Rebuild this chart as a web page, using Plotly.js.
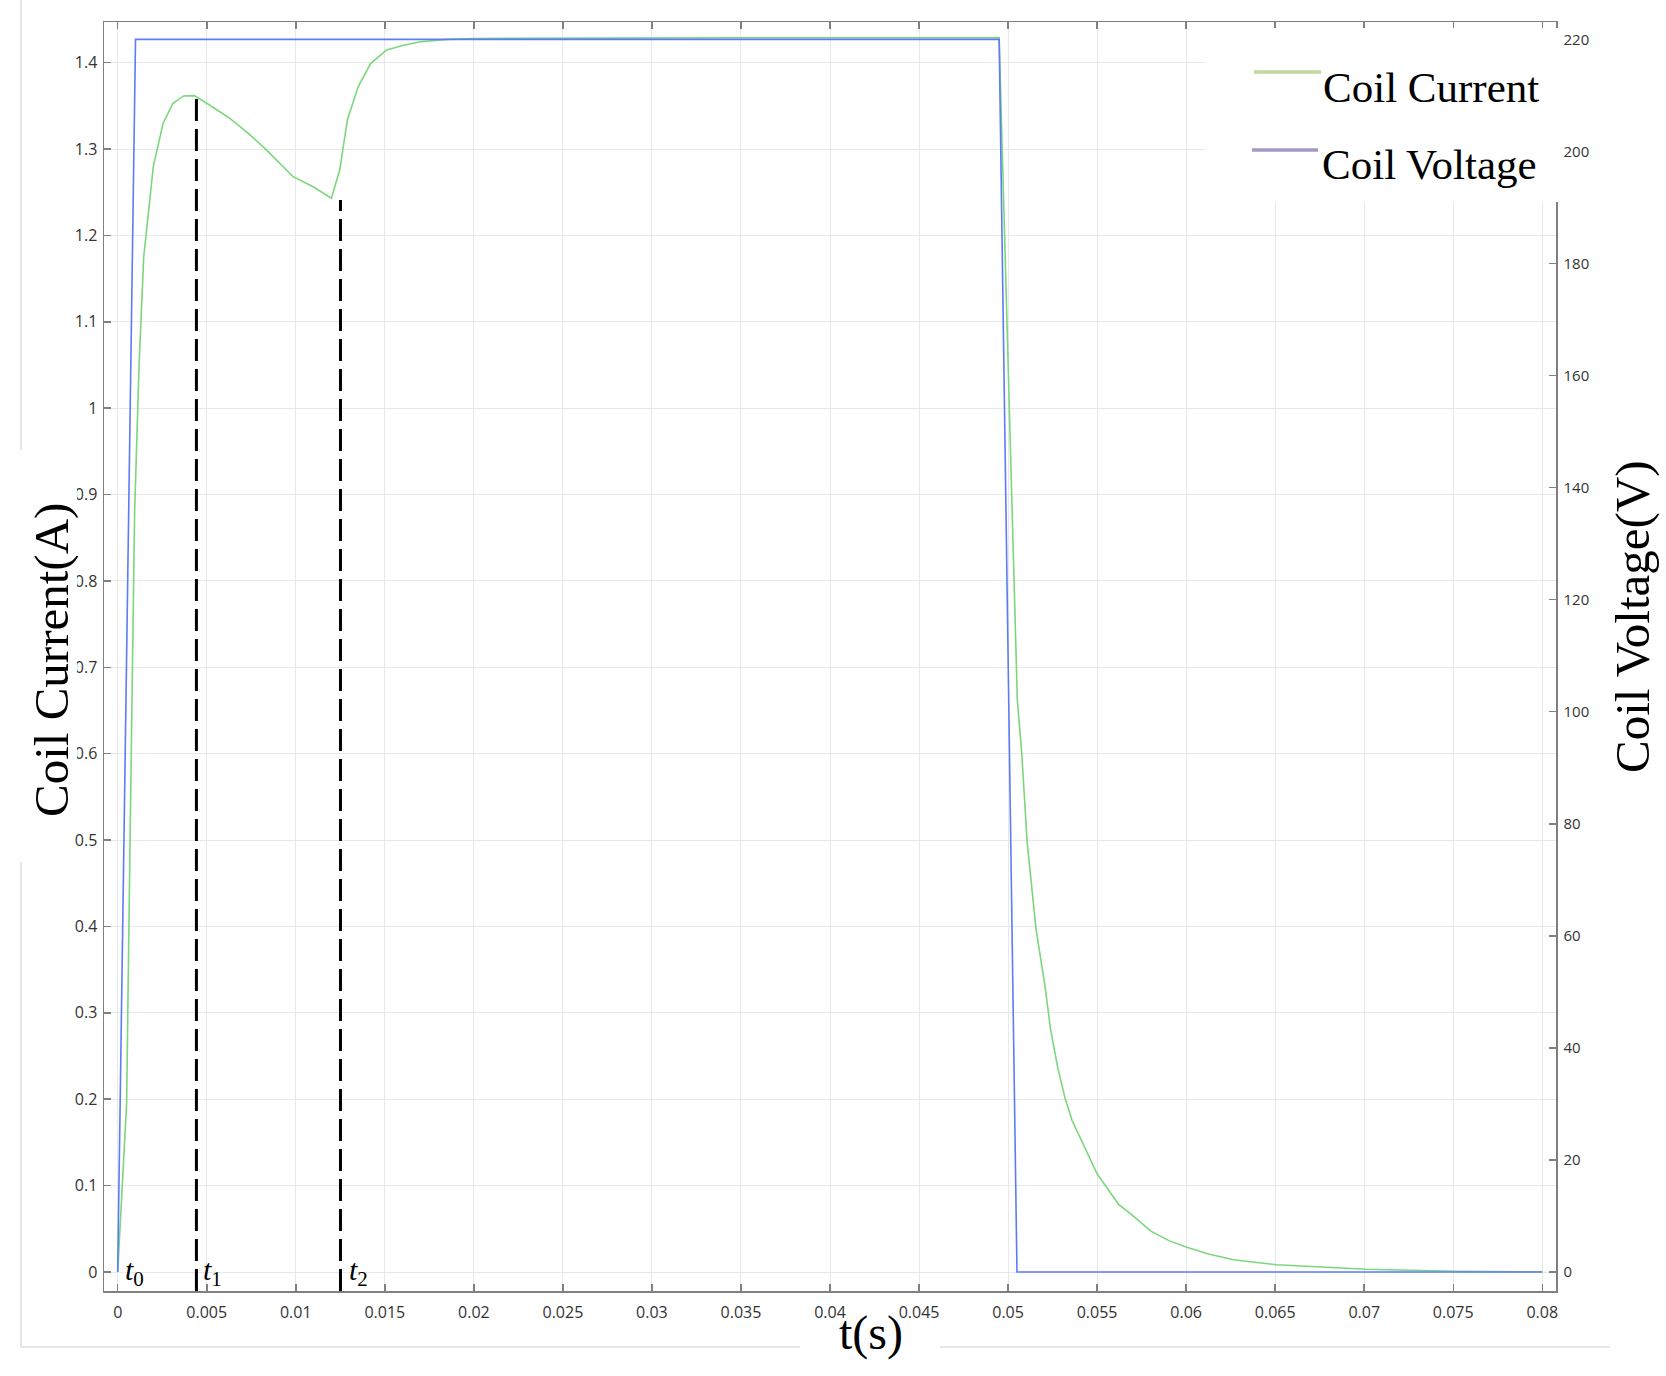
<!DOCTYPE html>
<html>
<head>
<meta charset="utf-8">
<script src="https://cdn.plot.ly/plotly-3.0.1.min.js"></script>
<style>html,body{margin:0;padding:0;background:#fff;}#chart{width:1666px;height:1376px;}</style>
</head>
<body>
<div id="chart"></div>
<script>
// ---- data ----
const voltageTime = [0, 0.001, 0.0495, 0.0505, 0.08];
const voltageValue = [0, 220, 220, 0, 0];

const currentTime = [0, 0.0005, 0.0007, 0.00095, 0.0012, 0.00146, 0.002, 0.00255, 0.0031, 0.0037, 0.0043,
  0.005, 0.0063, 0.0074, 0.00835, 0.00985, 0.011, 0.012, 0.01247, 0.0129, 0.0135, 0.0142, 0.0151, 0.016,
  0.017, 0.0185, 0.02, 0.025, 0.03, 0.035, 0.04, 0.045, 0.0495, 0.05052, 0.05077, 0.05107, 0.05137,
  0.05157, 0.05208, 0.05238, 0.05278, 0.05319, 0.05359, 0.05419, 0.0550, 0.0556, 0.05621, 0.05702,
  0.05802, 0.05903, 0.06004, 0.06125, 0.06266, 0.06508, 0.0677, 0.0701, 0.0751, 0.08];
const currentValue = [0, 0.195, 0.51, 0.88, 1.05, 1.175, 1.28, 1.33, 1.353, 1.3615, 1.3618,
  1.353, 1.3356, 1.317, 1.299, 1.268, 1.256, 1.243, 1.276, 1.334, 1.372, 1.399, 1.4147, 1.42,
  1.4243, 1.427, 1.428, 1.4285, 1.4288, 1.4288, 1.4288, 1.4288, 1.4288, 0.662, 0.600, 0.498, 0.4365,
  0.397, 0.330, 0.2817, 0.2375, 0.2021, 0.1756, 0.149, 0.1137, 0.096, 0.0783, 0.065,
  0.0473, 0.0363, 0.0287, 0.0208, 0.0142, 0.0084, 0.0053, 0.0031, 0.0009, 0.0002];

// instants marked with dashed lines
const markerNames = ['0', '1', '2'];
const markerTime = [0, 0.00442, 0.01251];
const markerTop = [0, 1.3626, 1.241];
const markerBottom = -0.022;
const markerLabelTime = [0.0003, 0.00465, 0.01285];

// tick labels
const xTickVals = [0, 0.005, 0.01, 0.015, 0.02, 0.025, 0.03, 0.035, 0.04, 0.045, 0.05, 0.055, 0.06, 0.065, 0.07, 0.075, 0.08];
const xTickText = ['0', '0.005', '0.01', '0.015', '0.02', '0.025', '0.03', '0.035', '0.04', '0.045', '0.05', '0.055', '0.06', '0.065', '0.07', '0.075', '0.08'];
const yTickVals = [0, 0.1, 0.2, 0.3, 0.4, 0.5, 0.6, 0.7, 0.8, 0.9, 1, 1.1, 1.2, 1.3, 1.4];
const yTickText = ['0', '0.1', '0.2', '0.3', '0.4', '0.5', '0.6', '0.7', '0.8', '0.9', '1', '1.1', '1.2', '1.3', '1.4'];
const y2TickVals = [0, 20, 40, 60, 80, 100, 120, 140, 160, 180, 200, 220];
const y2TickText = ['0', '20', '40', '60', '80', '100', '120', '140', '160', '180', '200', '220'];

const seriesNames = ['Coil Current', 'Coil Voltage'];
const axisTitles = {x: 't(s)', y: 'Coil Current(A)', y2: 'Coil Voltage(V)'};

// ---- styles ----
const AXC = '#808080';
const SERIF = 'Liberation Serif, Times New Roman, serif';
const SANS = 'Open Sans, sans-serif';
const px2x = p => (p - 104) / 1452;
const px2y = p => (1291 - p) / 1269;

const traces = [
  {x: voltageTime, y: voltageValue, yaxis: 'y2', type: 'scatter', mode: 'lines',
   name: seriesNames[1], line: {color: '#5b7cf5', width: 1.6}},
  {x: currentTime, y: currentValue, type: 'scatter', mode: 'lines',
   name: seriesNames[0], line: {color: '#7cd67c', width: 1.6}}
];
for (let i = 1; i < markerTime.length; i++) {
  traces.push({x: [markerTime[i], markerTime[i]], y: [markerBottom, markerTop[i]], type: 'scatter',
    mode: 'lines', line: {color: '#000', width: 3, dash: '22px,8px'}, hoverinfo: 'skip'});
}

const annotations = [];
for (let i = 0; i < markerNames.length; i++) {
  annotations.push({x: markerLabelTime[i], y: 0, xref: 'x', yref: 'y', xanchor: 'left', yanchor: 'middle',
    text: '<i>t</i><sub>' + markerNames[i] + '</sub>', showarrow: false,
    font: {family: SERIF, size: 30, color: '#000'}});
}
annotations.push(
  {x: px2x(51), y: px2y(660), xref: 'paper', yref: 'paper', text: axisTitles.y, textangle: -90,
   showarrow: false, xanchor: 'center', yanchor: 'middle', font: {family: SERIF, size: 49, color: '#000'}},
  {x: px2x(1632), y: px2y(617), xref: 'paper', yref: 'paper', text: axisTitles.y2, textangle: -90,
   showarrow: false, xanchor: 'center', yanchor: 'middle', font: {family: SERIF, size: 49, color: '#000'}},
  {x: px2x(871), y: px2y(1333), xref: 'paper', yref: 'paper', text: axisTitles.x,
   showarrow: false, xanchor: 'center', yanchor: 'middle', font: {family: SERIF, size: 48, color: '#000'}},
  {x: px2x(1321), y: px2y(88), xref: 'paper', yref: 'paper', text: seriesNames[0],
   showarrow: false, xanchor: 'left', yanchor: 'middle', font: {family: SERIF, size: 43, color: '#000'}},
  {x: px2x(1320), y: px2y(164), xref: 'paper', yref: 'paper', text: seriesNames[1],
   showarrow: false, xanchor: 'left', yanchor: 'middle', font: {family: SERIF, size: 43, color: '#000'}}
);

const shapes = [
  // light outer frame of the original screenshot
  {type: 'line', xref: 'paper', yref: 'paper', x0: px2x(21), x1: px2x(21), y0: px2y(0), y1: px2y(1347),
   line: {color: '#e3e6eb', width: 2}, layer: 'above'},
  {type: 'line', xref: 'paper', yref: 'paper', x0: px2x(21), x1: px2x(1610), y0: px2y(1347), y1: px2y(1347),
   line: {color: '#e3e6eb', width: 2}, layer: 'above'},
  // white patches behind titles / legend
  {type: 'rect', xref: 'paper', yref: 'paper', x0: px2x(0), x1: px2x(77), y0: px2y(832), y1: px2y(450),
   fillcolor: '#fff', line: {width: 0}, layer: 'above'},
  {type: 'rect', xref: 'paper', yref: 'paper', x0: px2x(5), x1: px2x(40), y0: px2y(862), y1: px2y(830),
   fillcolor: '#fff', line: {width: 0}, layer: 'above'},
  {type: 'rect', xref: 'paper', yref: 'paper', x0: px2x(800), x1: px2x(940), y0: px2y(1376), y1: px2y(1328),
   fillcolor: '#fff', line: {width: 0}, layer: 'above'},
  {type: 'rect', xref: 'paper', yref: 'paper', x0: px2x(1205), x1: px2x(1559), y0: px2y(202), y1: px2y(28),
   fillcolor: '#fff', line: {width: 0}, layer: 'above'},
  // legend keys
  {type: 'line', xref: 'paper', yref: 'paper', x0: px2x(1254), x1: px2x(1321), y0: px2y(72), y1: px2y(72),
   line: {color: '#c3d69b', width: 3.5}, layer: 'above'},
  {type: 'line', xref: 'paper', yref: 'paper', x0: px2x(1252), x1: px2x(1318), y0: px2y(150), y1: px2y(150),
   line: {color: '#a598c6', width: 3.5}, layer: 'above'}
];

const axisCommon = {
  ticks: 'inside', ticklen: 7, tickwidth: 1.5, tickcolor: AXC,
  showline: true, linecolor: AXC, linewidth: 1.5, zeroline: false,
  tickfont: {family: SANS, size: 16, color: '#333'}
};

const layout = {
  width: 1666, height: 1376,
  margin: {l: 104, r: 110, t: 22, b: 85, pad: 0},
  paper_bgcolor: '#fff', plot_bgcolor: '#fff',
  showlegend: false,
  xaxis: Object.assign({}, axisCommon, {
    range: [-0.00077, 0.08077], tickmode: 'array', tickvals: xTickVals, ticktext: xTickText,
    showgrid: true, gridcolor: '#e8e8e8', gridwidth: 1, mirror: 'ticks', ticklabelstandoff: 6
  }),
  yaxis: Object.assign({}, axisCommon, {
    range: [-0.022, 1.4471], tickmode: 'array', tickvals: yTickVals, ticktext: yTickText,
    showgrid: true, gridcolor: '#e8e8e8', gridwidth: 1, ticklabelstandoff: 2
  }),
  yaxis2: Object.assign({}, axisCommon, {
    overlaying: 'y', side: 'right', range: [-3.39, 223.1], tickmode: 'array',
    tickvals: y2TickVals, ticktext: y2TickText, showgrid: false, ticklabelstandoff: 3,
    tickfont: {family: SANS, size: 15, color: '#333'}
  }),
  annotations: annotations,
  shapes: shapes
};

Plotly.newPlot('chart', traces, layout, {displayModeBar: false, staticPlot: true});
</script>
</body>
</html>
